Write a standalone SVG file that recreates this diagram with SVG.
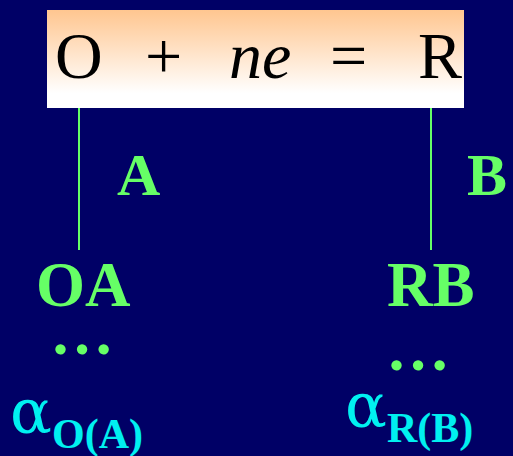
<svg xmlns="http://www.w3.org/2000/svg" width="513" height="456" viewBox="0 0 513 456">
<defs>
<linearGradient id="g" x1="0" y1="0" x2="0" y2="1">
<stop offset="0" stop-color="#FFC690"/>
<stop offset="0.85" stop-color="#FFFFFF"/>
<stop offset="1" stop-color="#FFFFFF"/>
</linearGradient>
<style>
.eq{font-family:"Liberation Serif","Times New Roman",serif;font-size:66px;fill:#000}
.gr{font-family:"Liberation Serif","Times New Roman",serif;font-weight:bold;fill:#66FF66}
.cy{font-family:"Liberation Serif","Times New Roman",serif;fill:#00F0F0}
.al{font-family:"DejaVu Serif","Liberation Serif",serif;font-size:62px;fill:#00F0F0}
.ln{stroke:#66FF66;stroke-width:2;fill:none}
</style>
</defs>
<rect x="0" y="0" width="513" height="456" fill="#000066"/>
<g id="equation">
<rect x="47" y="10" width="417" height="98" fill="url(#g)"/>
<text class="eq" x="55" y="78">O</text>
<text class="eq" x="145" y="78">+</text>
<text class="eq" x="229" y="78" font-style="italic">ne</text>
<text class="eq" x="330" y="78">=</text>
<text class="eq" x="418" y="78">R</text>
</g>
<g id="connectors">
<line class="ln" x1="79" y1="108" x2="79" y2="250"/>
<line class="ln" x1="431" y1="108" x2="431" y2="250"/>
</g>
<g id="labelA"><text class="gr" x="117" y="195" font-size="60">A</text></g>
<g id="labelB"><text class="gr" x="467" y="195" font-size="60">B</text></g>
<g id="OA">
<text class="gr" x="36" y="306" font-size="63">OA</text>
<text class="gr" x="50" y="354" font-size="64">…</text>
</g>
<g id="RB">
<text class="gr" x="387" y="306" font-size="63">RB</text>
<text class="gr" x="386" y="370" font-size="64">…</text>
</g>
<g id="alphaO">
<text class="al" x="10" y="433">α</text>
<text class="cy" x="52" y="448" font-size="42" font-weight="bold">O(A)</text>
</g>
<g id="alphaR">
<text class="al" x="345" y="427">α</text>
<text class="cy" x="387" y="442" font-size="42" font-weight="bold">R(B)</text>
</g>
</svg>
